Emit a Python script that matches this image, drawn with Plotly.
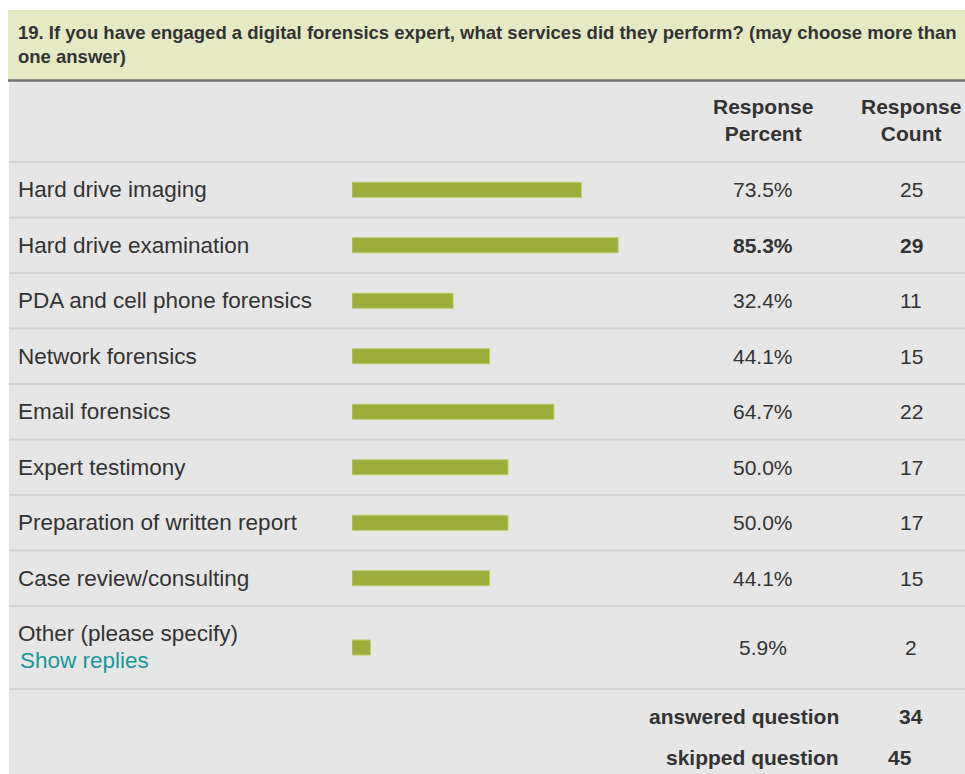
import plotly.graph_objects as go

W, H = 965, 774

TITLE = ("19. If you have engaged a digital forensics expert, what services did they perform? (may choose more than"
         "<br>one answer)")

answers = [
    "Hard drive imaging",
    "Hard drive examination",
    "PDA and cell phone forensics",
    "Network forensics",
    "Email forensics",
    "Expert testimony",
    "Preparation of written report",
    "Case review/consulting",
    "Other (please specify)",
]
percents = [73.5, 85.3, 32.4, 44.1, 64.7, 50.0, 50.0, 44.1, 5.9]
counts = [25, 29, 11, 15, 22, 17, 17, 15, 2]
answered = 34
skipped = 45

BAR = "#9cad3b"
TEXT = "#333333"
FONT = "Liberation Sans, Arial, sans-serif"

# row geometry (pixels from top)
ROW_TOP = 162
ROW_H = 55.5
LAST_ROW_H = 83
row_tops = [ROW_TOP + i * ROW_H for i in range(len(answers))]
row_bottoms = [t + ROW_H for t in row_tops[:-1]] + [row_tops[-1] + LAST_ROW_H]
row_mid = [(t + b) / 2 for t, b in zip(row_tops, row_bottoms)]

PCT_X = 763
CNT_X = 911
LABEL_SIZE = 22.5
VAL_SIZE = 21


def px(x):
    return x / W


def note(text, x, y, size=VAL_SIZE, anchor="center", bold=False, color=TEXT,
         family=FONT):
    return dict(text=text, x=px(x), y=y, xref="paper", yref="y",
                xanchor=anchor, yanchor="middle", align=anchor,
                showarrow=False,
                font=dict(family=family, size=size, color=color,
                          weight="bold" if bold else "normal"))


fig = go.Figure(
    go.Bar(
        x=percents,
        y=row_mid,
        orientation="h",
        width=15,
        marker=dict(color=BAR, line=dict(color="#bccb66", width=1)),
        hoverinfo="skip",
    )
)

shapes = [
    # grey table body
    dict(type="rect", xref="paper", yref="y", x0=px(9), x1=1, y0=81, y1=H,
         fillcolor="#e6e6e6", line_width=0, layer="below"),
    # title box
    dict(type="rect", xref="paper", yref="y", x0=px(8), x1=1, y0=10, y1=80,
         fillcolor="#e5eac3", line_width=0, layer="below"),
    dict(type="line", xref="paper", yref="y", x0=px(8), x1=1, y0=80.5, y1=80.5,
         line=dict(color="#727272", width=2.5), layer="below"),
]
for y in [ROW_TOP] + row_bottoms:
    shapes.append(dict(type="line", xref="paper", yref="y", x0=px(9), x1=1,
                       y0=y, y1=y, line=dict(color="#d2d2d2", width=2),
                       layer="below"))

annotations = [
    note(TITLE, 16, 44, size=18.5, anchor="left", bold=True),
    note("Response<br>Percent", PCT_X, 120, bold=True),
    note("Response<br>Count", CNT_X, 120, bold=True),
]

top = max(percents)
for i, (name, p, c) in enumerate(zip(answers, percents, counts)):
    ymid = row_mid[i]
    hi = p == top
    if i == len(answers) - 1:
        annotations.append(note(name, 16, ymid - 14, size=LABEL_SIZE, anchor="left"))
        annotations.append(note("Show replies", 18, ymid + 13, size=LABEL_SIZE,
                                anchor="left", color="#1a9797"))
    else:
        annotations.append(note(name, 16, ymid, size=LABEL_SIZE, anchor="left"))
    annotations.append(note(f"{p:.1f}%", PCT_X, ymid, bold=hi))
    annotations.append(note(str(c), CNT_X, ymid, bold=hi))

foot = [("answered question", answered, 716, 911),
        ("skipped question", skipped, 757, 900)]
for label, val, y, vx in foot:
    annotations.append(note(label, 841, y, anchor="right", bold=True))
    annotations.append(note(str(val), vx, y, bold=True))

fig.update_layout(
    width=W,
    height=H,
    margin=dict(l=0, r=0, t=0, b=0),
    paper_bgcolor="white",
    plot_bgcolor="rgba(0,0,0,0)",
    showlegend=False,
    shapes=shapes,
    annotations=annotations,
    xaxis=dict(domain=[px(352), px(664)], range=[0, 100], visible=False,
               fixedrange=True),
    yaxis=dict(domain=[0, 1], range=[H, 0], visible=False, fixedrange=True),
)

fig.write_html(
    "out.html",
    config={"displayModeBar": False},
    post_script="document.body.style.margin='0';document.body.style.overflow='hidden';",
)
